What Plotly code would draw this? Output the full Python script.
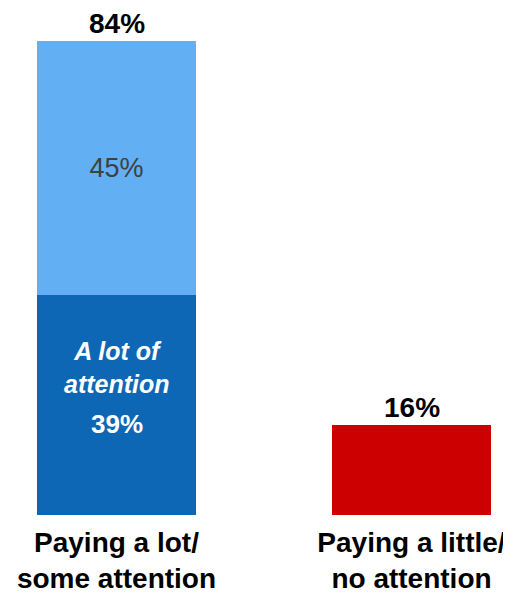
"""Attention paid: stacked bar chart."""

import plotly.graph_objects as go

categories = ["Paying a lot/<br>some attention", "Paying a little/<br>no attention"]
a_lot = [39, None]
some = [45, None]
little_none = [None, 16]
totals = [84, 16]

LIGHT = "#62B0F3"
DARK = "#0E67B5"
RED = "#CC0000"
FONT = "Liberation Sans, Arial, sans-serif"

x = [0, 1]

fig = go.Figure()

fig.add_trace(
    go.Bar(
        x=x,
        y=a_lot,
        marker_color=DARK,
        marker_line_width=0,
        width=0.54,
        hoverinfo="skip",
    )
)
fig.add_trace(
    go.Bar(
        x=x,
        y=some,
        marker_color=LIGHT,
        marker_line_width=0,
        width=0.54,
        text=[f"{v}%" if v else "" for v in some],
        textposition="inside",
        insidetextanchor="middle",
        textfont=dict(family=FONT, size=27, color="#404040"),
        hoverinfo="skip",
    )
)
fig.add_trace(
    go.Bar(
        x=x,
        y=little_none,
        marker_color=RED,
        marker_line_width=0,
        width=0.54,
        hoverinfo="skip",
    )
)

# totals above the bars
for xi, t in zip(x, totals):
    fig.add_annotation(
        x=xi,
        y=t,
        text=f"<b>{t}%</b>",
        showarrow=False,
        yanchor="bottom",
        yshift=0,
        font=dict(family=FONT, size=28, color="#000000"),
    )

# labels inside the dark segment
fig.add_annotation(
    x=0,
    y=a_lot[0] / 2,
    text="<b><i>A lot of<br>attention</i></b>",
    showarrow=False,
    yshift=37,
    align="center",
    font=dict(family=FONT, size=25, color="#FFFFFF"),
)
fig.add_annotation(
    x=0,
    y=a_lot[0] / 2,
    text=f"<b>{a_lot[0]}%</b>",
    showarrow=False,
    yshift=-19,
    font=dict(family=FONT, size=26, color="#FFFFFF"),
)

# page body has an 8px margin, so the figure is 8px smaller each way
fig.update_layout(
    width=503,
    height=587,
    margin=dict(l=0, r=0, t=0, b=80),
    barmode="stack",
    showlegend=False,
    plot_bgcolor="#FFFFFF",
    paper_bgcolor="#FFFFFF",
    xaxis=dict(
        range=[-0.3678, 1.3373],
        tickvals=x,
        ticktext=[f"<b>{c}</b>" for c in categories],
        tickfont=dict(family=FONT, size=28, color="#000000"),
        ticklabelstandoff=8,
        automargin=False,
        showgrid=False,
        zeroline=False,
        showline=False,
        ticks="",
    ),
    yaxis=dict(
        range=[0, 89.8],
        visible=False,
        showgrid=False,
        automargin=False,
    ),
)

fig.write_html("out.html")
